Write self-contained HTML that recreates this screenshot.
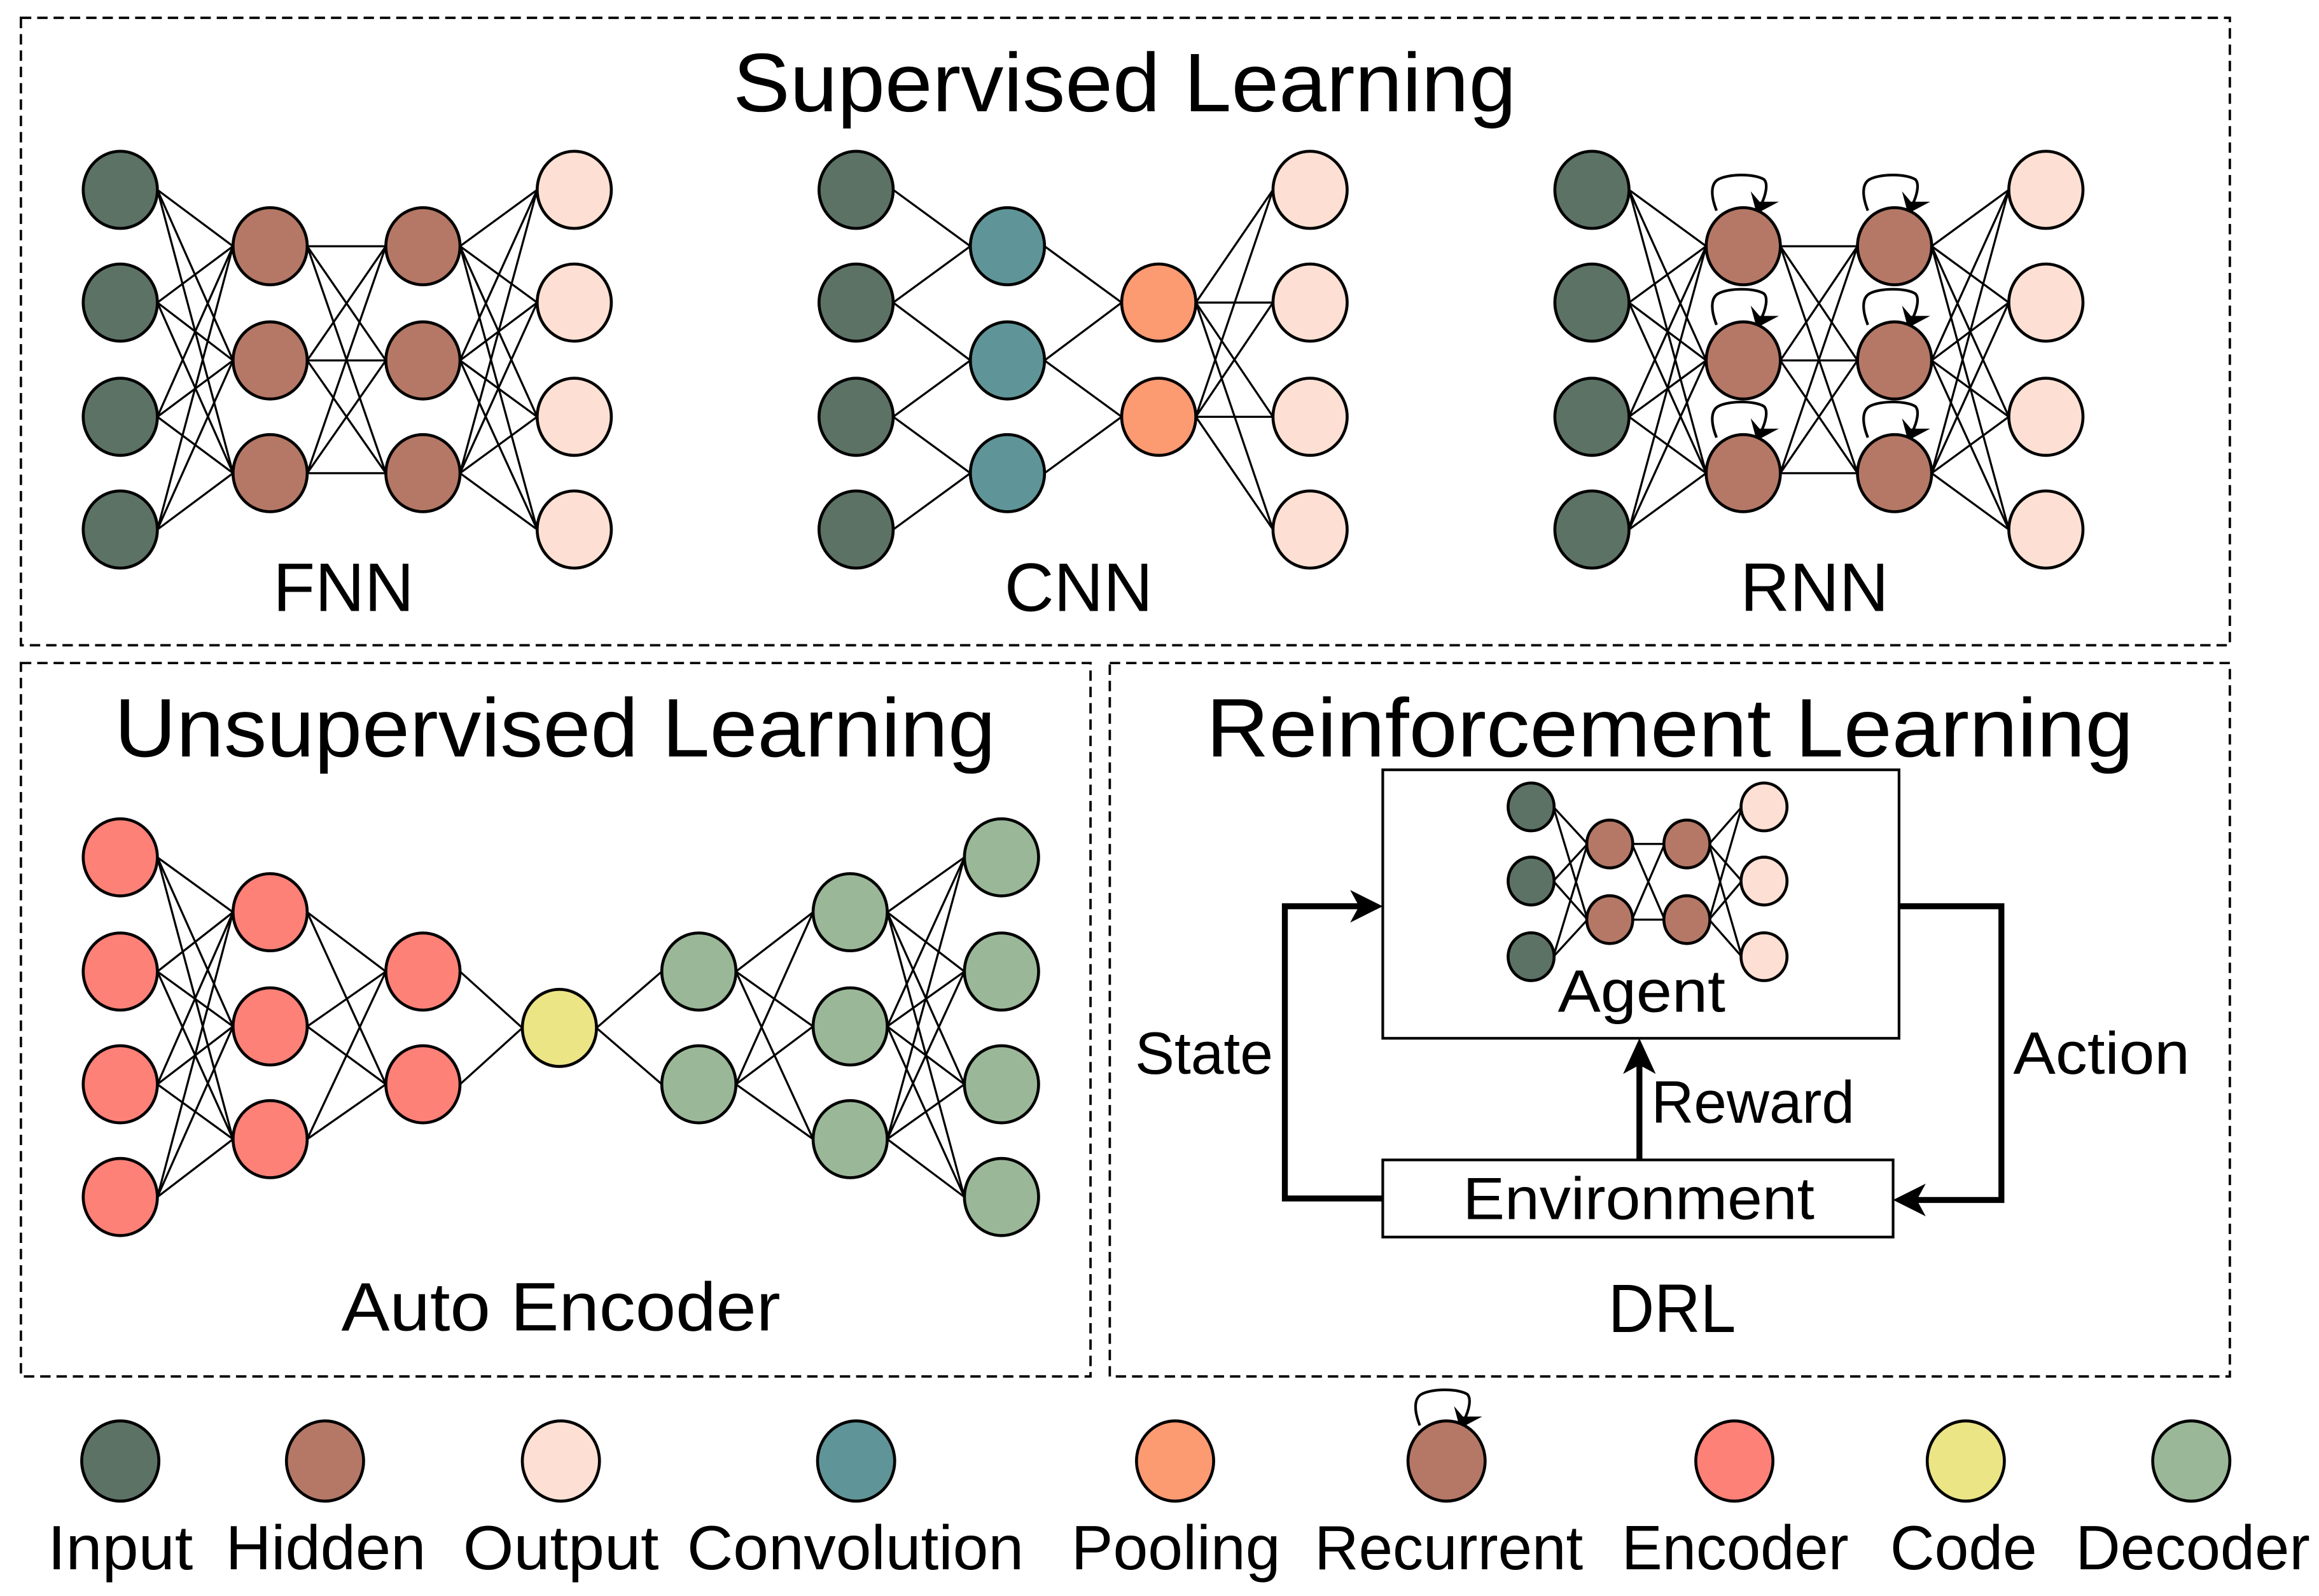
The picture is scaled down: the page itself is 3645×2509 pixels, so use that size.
<!DOCTYPE html>
<html><head><meta charset="utf-8"><style>
html,body{margin:0;padding:0;background:#fff;}
svg{display:block;}
text{font-family:"Liberation Sans","DejaVu Sans",sans-serif;fill:#000;}
</style></head><body>
<svg id="s" width="3645" height="2509" viewBox="0 0 1563 1076" xmlns="http://www.w3.org/2000/svg">
<defs>
<marker id="ah" viewBox="0 0 10 10" refX="9" refY="5" markerWidth="5" markerHeight="5" orient="auto" markerUnits="userSpaceOnUse"><path d="M0,0 L10,5 L0,10 L3,5 z" fill="#000"/></marker>
</defs>
<rect width="1563" height="1076" fill="#fff"/>
<g fill="none" stroke="#000" stroke-width="1.6" stroke-dasharray="7,4">
<rect x="14" y="12" width="1489" height="423"/>
<rect x="14" y="447" width="721" height="481"/>
<rect x="748" y="447" width="755" height="481"/>
</g>
<g id="lines" stroke="#000" stroke-width="1.4"></g>
<g id="loops" fill="none" stroke="#000" stroke-width="1.8"></g>
<g id="nodes" stroke="#000" stroke-width="2"></g>
<g stroke="#000" stroke-width="1.8" fill="none">
<rect x="932" y="519" width="348" height="181"/>
<rect x="932" y="782" width="344" height="52"/>
</g>
<g stroke="#000" stroke-width="4" fill="none">
<polyline points="932,808 866,808 866,611 918,611"/>
<polyline points="1280,611 1349,611 1349,809 1290,809"/>
<line x1="1105" y1="782" x2="1105" y2="716"/>
</g>
<g fill="#000">
<polygon points="932,611 910,600 916,611 910,622"/>
<polygon points="1276,809 1298,798 1292,809 1298,820"/>
<polygon points="1105,700 1094,724 1105,718 1116,724"/>
</g>
<text x="494" y="75" font-size="56" textLength="528" lengthAdjust="spacingAndGlyphs">Supervised Learning</text>
<text x="77" y="510" font-size="56" textLength="594" lengthAdjust="spacingAndGlyphs">Unsupervised Learning</text>
<text x="813" y="510" font-size="56" textLength="625" lengthAdjust="spacingAndGlyphs">Reinforcement Learning</text>
<text x="184" y="412" font-size="46" textLength="95" lengthAdjust="spacingAndGlyphs">FNN</text>
<text x="677" y="412" font-size="46" textLength="100" lengthAdjust="spacingAndGlyphs">CNN</text>
<text x="1173" y="412" font-size="46" textLength="100" lengthAdjust="spacingAndGlyphs">RNN</text>
<text x="230" y="897" font-size="46" textLength="296" lengthAdjust="spacingAndGlyphs">Auto Encoder</text>
<text x="1084" y="898" font-size="46" textLength="86" lengthAdjust="spacingAndGlyphs">DRL</text>
<text x="1050" y="682" font-size="40" textLength="113" lengthAdjust="spacingAndGlyphs">Agent</text>
<text x="986" y="822" font-size="40" textLength="237" lengthAdjust="spacingAndGlyphs">Environment</text>
<text x="1113" y="757" font-size="40" textLength="137" lengthAdjust="spacingAndGlyphs">Reward</text>
<text x="765" y="724" font-size="40" textLength="93" lengthAdjust="spacingAndGlyphs">State</text>
<text x="1357" y="724" font-size="40" textLength="119" lengthAdjust="spacingAndGlyphs">Action</text>
<g font-size="42">
<text x="32" y="1058" textLength="98" lengthAdjust="spacingAndGlyphs">Input</text>
<text x="152" y="1058" textLength="135" lengthAdjust="spacingAndGlyphs">Hidden</text>
<text x="312" y="1058" textLength="132" lengthAdjust="spacingAndGlyphs">Output</text>
<text x="463" y="1058" textLength="227" lengthAdjust="spacingAndGlyphs">Convolution</text>
<text x="722" y="1058" textLength="141" lengthAdjust="spacingAndGlyphs">Pooling</text>
<text x="886" y="1058" textLength="181" lengthAdjust="spacingAndGlyphs">Recurrent</text>
<text x="1093" y="1058" textLength="153" lengthAdjust="spacingAndGlyphs">Encoder</text>
<text x="1274" y="1058" textLength="99" lengthAdjust="spacingAndGlyphs">Code</text>
<text x="1399" y="1058" textLength="158" lengthAdjust="spacingAndGlyphs">Decoder</text>
</g>
</svg>
<script>
var NS="http://www.w3.org/2000/svg";
var L=document.getElementById('lines'),N=document.getElementById('nodes'),LP=document.getElementById('loops');
var C={i:'#5c7265',h:'#b57866',o:'#fde0d3',c:'#5f9598',p:'#fc9a72',e:'#fe8178',k:'#ebe585',d:'#9ab898'};
function ln(a,b,c,d){var l=document.createElementNS(NS,'line');l.setAttribute('x1',a);l.setAttribute('y1',b);l.setAttribute('x2',c);l.setAttribute('y2',d);L.appendChild(l);}
function nd(x,y,col,r){r=r||25;var e=document.createElementNS(NS,'ellipse');e.setAttribute('cx',x);e.setAttribute('cy',y);e.setAttribute('rx',r);e.setAttribute('ry',r*1.04);e.setAttribute('fill',C[col]);N.appendChild(e);}
function full(x1,ys1,x2,ys2,r){r=r||25;ys1.forEach(function(a){ys2.forEach(function(b){ln(x1+r,a,x2-r,b);});});}
function col(x,ys,c,r){ys.forEach(function(y){nd(x,y,c,r);});}
function loop(cx,cy){var p=document.createElementNS(NS,'path');
p.setAttribute('d','M'+(cx-18)+','+(cy-24)+' C'+(cx-22)+','+(cy-34)+' '+(cx-22)+','+(cy-42)+' '+(cx-17)+','+(cy-45)+' C'+(cx-10)+','+(cy-49)+' '+(cx+8)+','+(cy-49)+' '+(cx+14)+','+(cy-45)+' C'+(cx+17)+','+(cy-42)+' '+(cx+15)+','+(cy-34)+' '+(cx+12)+','+(cy-28));
LP.appendChild(p);var t=document.createElementNS(NS,'polygon');
t.setAttribute('points',(cx+9)+','+(cy-22)+' '+(cx+5)+','+(cy-37)+' '+(cx+11)+','+(cy-30)+' '+(cx+24)+','+(cy-30));t.setAttribute('fill','#000');t.setAttribute('stroke','none');LP.appendChild(t);}
var Y4=[128,204,281,357],Y3=[166,243,319],Y2=[204,281];
// FNN
full(81,Y4,182,Y3);full(182,Y3,285,Y3);full(285,Y3,387,Y4);
col(81,Y4,'i');col(182,Y3,'h');col(285,Y3,'h');col(387,Y4,'o');
// CNN
var X=577;[[0,0],[1,0],[1,1],[2,1],[2,2],[3,2]].forEach(function(p){ln(X+25,Y4[p[0]],679-25,Y3[p[1]]);});
[[0,0],[1,0],[1,1],[2,1]].forEach(function(p){ln(679+25,Y3[p[0]],781-25,Y2[p[1]]);});
full(781,Y2,883,Y4);
col(577,Y4,'i');col(679,Y3,'c');col(781,Y2,'p');col(883,Y4,'o');
// RNN
full(1073,Y4,1175,Y3);full(1175,Y3,1277,Y3);full(1277,Y3,1379,Y4);
col(1073,Y4,'i');col(1175,Y3,'h');col(1277,Y3,'h');col(1379,Y4,'o');
Y3.forEach(function(y){loop(1175,y);loop(1277,y);});
// AE
var A4=[578,655,731,807],A3=[615,692,768],A2=[655,731];
full(81,A4,182,A3);full(182,A3,285,A2);full(285,A2,377,[693]);full(377,[693],471,A2);full(471,A2,573,A3);full(573,A3,675,A4);
col(81,A4,'e');col(182,A3,'e');col(285,A2,'e');nd(377,693,'k');col(471,A2,'d');col(573,A3,'d');col(675,A4,'d');
// DRL agent
var D3=[544,594,645],D2=[569,620];
full(1032,D3,1085,D2,15);full(1085,D2,1137,D2,15);full(1137,D2,1189,D3,15);
col(1032,D3,'i',15.5);col(1085,D2,'h',15.5);col(1137,D2,'h',15.5);col(1189,D3,'o',15.5);
// legend
[[81,'i'],[219,'h'],[378,'o'],[577,'c'],[792,'p'],[975,'h'],[1169,'e'],[1325,'k'],[1477,'d']].forEach(function(q){nd(q[0],985,q[1],26);});
loop(975,985);
</script>
</body></html>
